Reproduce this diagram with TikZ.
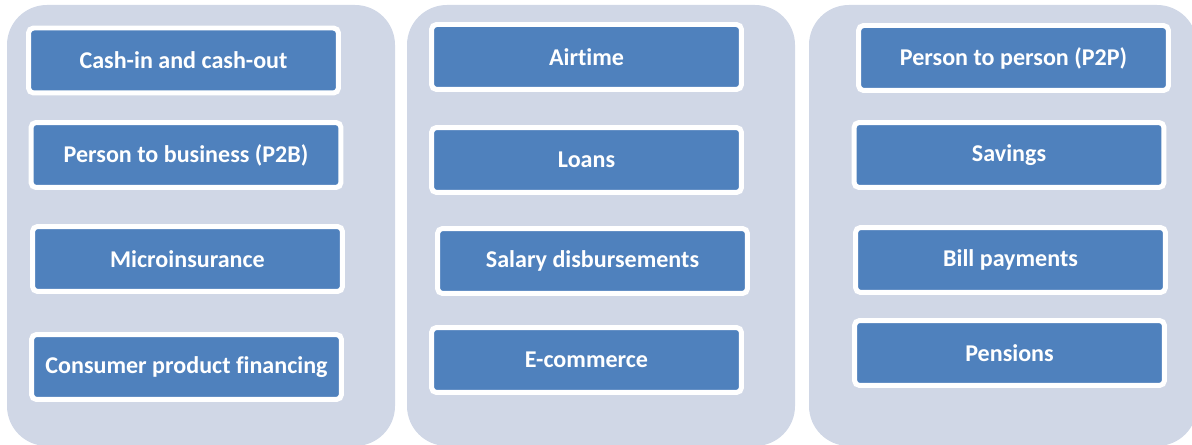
\documentclass[tikz,border=0pt]{standalone}
\usepackage{fontspec}
\setmainfont{Carlito}[Ligatures=NoCommon]
\usepackage{xcolor}
\usepackage{tikz}
\definecolor{panelgray}{HTML}{D0D7E6}
\definecolor{boxblue}{HTML}{4F81BD}

\begin{document}
\begin{tikzpicture}[x=0.02cm,y=-0.02cm,
  panel/.style={fill=panelgray, rounded corners=0.8cm},
  item/.style={fill=boxblue, draw=white, line width=0.1cm, rounded corners=0.1cm,
    minimum width=6.2cm, minimum height=1.3cm, inner sep=0pt,
    text=white, font=\bfseries\fontsize{13.7}{16}\selectfont}]
\useasboundingbox (0,0) rectangle (1192,445);
% three columns
\fill[panel] (7,5) rectangle (395,446);
\fill[panel] (407,5) rectangle (795,446);
\fill[panel] (809,5) rectangle (1197,446);
% left column
\node[item] (cash) at (183.5,60.5) {Cash-in and cash-out};
\node[item] (ptob) at (186,155) {Person to business (P2B)};
\node[item] (micro) at (187.5,259) {Microinsurance};
\node[item] (consumer) at (186.5,367) {Consumer product financing};
% middle column
\node[item] (airtime) at (586.5,57) {Airtime};
\node[item] (loans) at (586.5,160) {Loans};
\node[item] (salary) at (592.5,261) {Salary disbursements};
\node[item] (ecom) at (586.5,360) {E-commerce};
% right column
\node[item] (ptop) at (1013.5,58) {Person to person (P2P)};
\node[item] (savings) at (1009,155) {Savings};
\node[item] (bills) at (1010.5,260) {Bill payments};
\node[item] (pensions) at (1009.5,353) {Pensions};
\end{tikzpicture}
\end{document}
